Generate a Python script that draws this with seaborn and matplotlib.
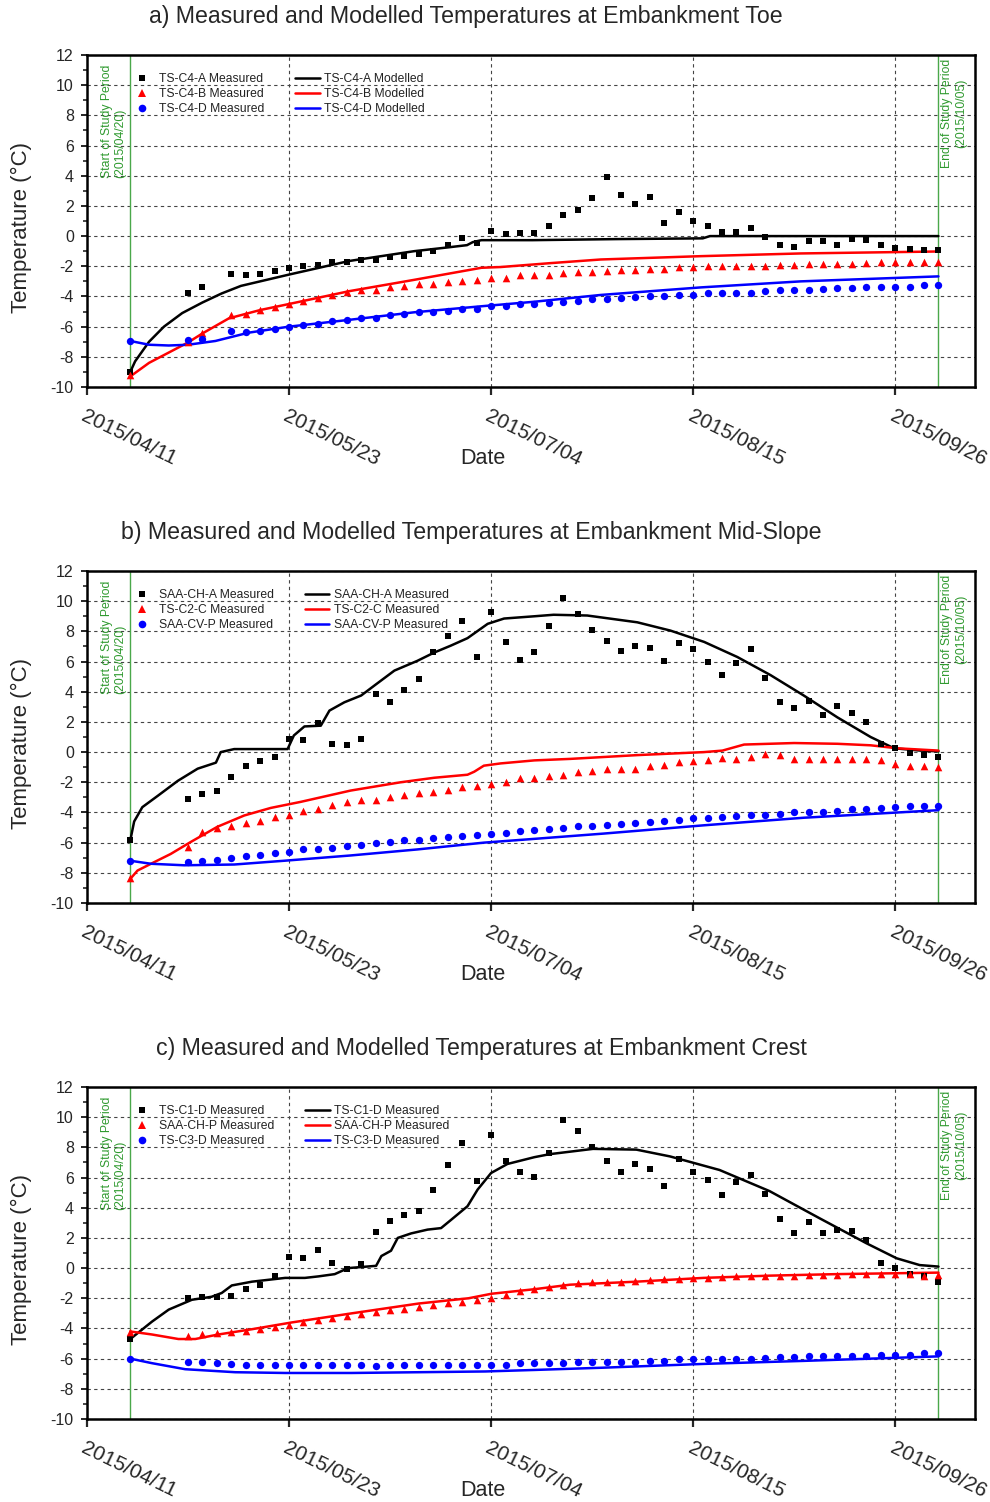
import pandas as pd
import seaborn as sns
import matplotlib.pyplot as plt
import matplotlib.dates as mdates
from matplotlib.lines import Line2D
from matplotlib.ticker import MultipleLocator

sns.set_style("ticks")
plt.rcParams['font.family'] = ['Liberation Sans', 'DejaVu Sans']
plt.rcParams['axes.unicode_minus'] = False

START = pd.Timestamp('2015-04-11')

# ---- measurement days (days after 2015/04/11) ----
toe_days = [9, 21, 24, 30, 33, 36, 39, 42, 45, 48, 51, 54, 57, 60, 63, 66, 69, 72,
            75, 78, 81, 84, 87, 90, 93, 96, 99, 102, 105, 108, 111, 114, 117, 120,
            123, 126, 129, 132, 135, 138, 141, 144, 147, 150, 153, 156, 159, 162,
            165, 168, 171, 174, 177]
mid_days = [9, 21, 24, 27, 30, 33, 36, 39, 42, 45, 48, 51, 54, 57, 60, 63, 66, 69,
            72, 75, 78, 81, 84, 87, 90, 93, 96, 99, 102, 105, 108, 111, 114, 117,
            120, 123, 126, 129, 132, 135, 138, 141, 144, 147, 150, 153, 156, 159,
            162, 165, 168, 171, 174, 177]
crest_days = mid_days

# ---- a) toe, measured ----
toe_a = [-9.0, -3.8, -3.4, -2.5, -2.6, -2.5, -2.3, -2.1, -2.0, -1.9, -1.7, -1.7, -1.6,
         -1.6, -1.4, -1.3, -1.2, -1.0, -0.6, -0.1, -0.45, 0.35, 0.15, 0.2, 0.2, 0.7,
         1.4, 1.75, 2.5, 3.9, 2.7, 2.1, 2.6, 0.9, 1.6, 1.0, 0.7, 0.3, 0.25, 0.55,
         -0.05, -0.6, -0.7, -0.35, -0.35, -0.6, -0.2, -0.25, -0.6, -0.8, -0.85, -0.9,
         -0.95]
toe_b = [-9.2, -7.0, -6.4, -5.2, -5.15, -4.9, -4.7, -4.5, -4.3, -4.1, -3.9, -3.7, -3.6,
         -3.55, -3.4, -3.3, -3.2, -3.15, -3.05, -2.95, -2.9, -2.8, -2.75, -2.6, -2.6,
         -2.55, -2.45, -2.4, -2.35, -2.3, -2.27, -2.22, -2.2, -2.15, -2.07, -2.07, -2.0,
         -2.0, -2.0, -2.0, -1.95, -1.9, -1.9, -1.85, -1.85, -1.85, -1.82, -1.78, -1.75,
         -1.75, -1.75, -1.7, -1.7]
toe_d = [-6.95, -6.9, -6.8, -6.3, -6.35, -6.3, -6.15, -6.0, -5.9, -5.8, -5.65, -5.55,
         -5.4, -5.4, -5.2, -5.15, -5.05, -5.05, -4.95, -4.8, -4.8, -4.65, -4.6, -4.5,
         -4.5, -4.45, -4.4, -4.3, -4.2, -4.15, -4.1, -4.05, -4.0, -3.95, -3.9, -3.9,
         -3.8, -3.8, -3.75, -3.75, -3.65, -3.6, -3.6, -3.55, -3.5, -3.45, -3.45, -3.4,
         -3.35, -3.35, -3.35, -3.25, -3.25]
# a) toe, modelled
toe_a_mod_days = [9, 10, 12.9, 16, 19.8, 24, 28, 32, 42, 54.5, 68, 75, 79, 80.2, 82,
                  92.6, 110, 128, 129.5, 140, 177]
toe_a_mod = [-9.0, -8.3, -7.0, -6.0, -5.1, -4.4, -3.8, -3.3, -2.55, -1.65, -1.0, -0.75,
             -0.6, -0.4, -0.27, -0.27, -0.2, -0.15, 0.0, 0.0, 0.0]
toe_b_mod_days = [9, 12.9, 21, 24, 29.5, 36, 42, 54.5, 68, 82, 86, 96, 106.8, 127.6,
                  148.4, 177]
toe_b_mod = [-9.3, -8.4, -7.05, -6.45, -5.45, -4.9, -4.5, -3.65, -2.9, -2.1, -2.05,
             -1.8, -1.55, -1.33, -1.15, -1.02]
toe_d_mod_days = [9, 12.9, 17, 21, 26.7, 33.6, 42, 54.5, 68, 82, 93, 106.8, 127.6,
                  148.4, 177]
toe_d_mod = [-6.95, -7.2, -7.25, -7.2, -6.95, -6.4, -6.0, -5.55, -5.05, -4.65, -4.35,
             -3.9, -3.4, -3.0, -2.67]

# ---- b) mid-slope, measured ----
mid_a = [-5.85, -3.1, -2.8, -2.6, -1.65, -0.93, -0.6, -0.35, 0.9, 0.8, 1.9, 0.55, 0.5,
         0.85, 3.85, 3.3, 4.1, 4.85, 6.65, 7.7, 8.7, 6.3, 9.25, 7.3, 6.1, 6.6, 8.35,
         10.2, 9.15, 8.1, 7.35, 6.7, 7.05, 6.9, 6.05, 7.25, 6.85, 6.0, 5.1, 5.9, 6.8,
         4.9, 3.35, 2.95, 3.4, 2.45, 3.05, 2.6, 2.0, 0.55, 0.25, -0.05, -0.2, -0.35]
mid_b = [-8.35, -6.3, -5.3, -5.0, -4.9, -4.7, -4.55, -4.3, -4.15, -3.9, -3.75, -3.5,
         -3.3, -3.15, -3.15, -2.95, -2.85, -2.7, -2.65, -2.5, -2.3, -2.25, -2.1, -2.0,
         -1.75, -1.7, -1.6, -1.5, -1.35, -1.25, -1.15, -1.15, -1.1, -0.95, -0.85, -0.65,
         -0.6, -0.5, -0.4, -0.45, -0.35, -0.15, -0.2, -0.45, -0.45, -0.45, -0.47, -0.47,
         -0.47, -0.55, -0.8, -0.9, -0.9, -1.0]
mid_d = [-7.2, -7.3, -7.2, -7.15, -7.05, -6.9, -6.8, -6.7, -6.6, -6.45, -6.4, -6.35,
         -6.2, -6.15, -6.05, -5.95, -5.85, -5.8, -5.7, -5.6, -5.55, -5.5, -5.4, -5.35,
         -5.25, -5.15, -5.1, -5.0, -4.9, -4.9, -4.8, -4.75, -4.7, -4.6, -4.55, -4.5,
         -4.4, -4.35, -4.3, -4.25, -4.2, -4.15, -4.1, -4.0, -3.95, -3.95, -3.9, -3.8,
         -3.75, -3.7, -3.65, -3.6, -3.6, -3.55]
# b) mid-slope, modelled
mid_a_mod_days = [9, 9.8, 11.5, 14.7, 18.9, 23, 26.8, 27.8, 30.6, 41.7, 43, 45.2, 48.6,
                  50.4, 53.5, 57, 59.7, 63.9, 68.7, 72.2, 75.6, 79.1, 83.3, 86.7, 93,
                  97, 104, 114.4, 121.3, 128.3, 135.2, 142.1, 149, 156, 162.9, 167.8,
                  173.3, 177]
mid_a_mod = [-5.85, -4.6, -3.65, -2.9, -1.9, -1.1, -0.7, 0.0, 0.2, 0.2, 1.1, 1.7, 1.75,
             2.75, 3.3, 3.75, 4.4, 5.4, 6.05, 6.6, 7.05, 7.55, 8.5, 8.85, 9.0, 9.1,
             9.05, 8.6, 8.05, 7.3, 6.3, 5.1, 3.75, 2.3, 1.0, 0.25, 0.1, 0.05]
mid_b_mod_days = [9, 10.5, 13.3, 17.4, 21.6, 27.1, 32.7, 38.2, 44.4, 54.8, 65.2, 72.2,
                  79.1, 80.5, 82.5, 86, 93, 100.5, 114.4, 128.3, 132.1, 136.6, 147, 156,
                  162.9, 168.5, 177]
mid_b_mod = [-8.4, -7.85, -7.4, -6.75, -5.95, -4.95, -4.2, -3.7, -3.3, -2.55, -2.0,
             -1.7, -1.5, -1.3, -0.9, -0.75, -0.55, -0.45, -0.2, 0.0, 0.1, 0.5, 0.6,
             0.55, 0.45, 0.25, 0.1]
mid_d_mod_days = [9, 13.3, 20.2, 30.6, 41, 54.8, 68.7, 82.5, 93, 107.4, 128.3, 149, 177]
mid_d_mod = [-7.2, -7.4, -7.5, -7.45, -7.2, -6.85, -6.45, -6.0, -5.75, -5.4, -4.85,
             -4.35, -3.85]

# ---- c) crest, measured ----
crest_a = [-4.7, -2.0, -1.9, -1.9, -1.85, -1.4, -1.15, -0.55, 0.75, 0.65, 1.2, 0.35,
           -0.05, 0.3, 2.4, 3.1, 3.5, 3.8, 5.2, 6.85, 8.3, 5.8, 8.85, 7.1, 6.4, 6.05,
           7.65, 9.8, 9.1, 8.05, 7.1, 6.4, 6.9, 6.55, 5.45, 7.25, 6.4, 5.85, 4.85, 5.7,
           6.2, 4.9, 3.25, 2.3, 3.05, 2.3, 2.55, 2.45, 1.85, 0.35, 0.0, -0.4, -0.5, -0.9]
crest_b = [-4.25, -4.5, -4.4, -4.3, -4.25, -4.15, -4.05, -3.9, -3.75, -3.55, -3.45,
           -3.3, -3.15, -3.05, -2.9, -2.75, -2.7, -2.55, -2.45, -2.3, -2.25, -2.1, -1.95,
           -1.75, -1.55, -1.4, -1.25, -1.15, -1.0, -0.95, -0.9, -0.9, -0.85, -0.8, -0.75,
           -0.7, -0.65, -0.65, -0.6, -0.55, -0.55, -0.5, -0.5, -0.5, -0.45, -0.45,
           -0.45, -0.42, -0.42, -0.42, -0.4, -0.4, -0.5, -0.45]
crest_d = [-6.0, -6.2, -6.25, -6.3, -6.35, -6.4, -6.45, -6.4, -6.45, -6.45, -6.45, -6.4,
           -6.4, -6.4, -6.5, -6.4, -6.4, -6.4, -6.45, -6.45, -6.4, -6.4, -6.4, -6.4,
           -6.3, -6.3, -6.3, -6.3, -6.25, -6.25, -6.2, -6.2, -6.2, -6.15, -6.15, -6.05,
           -6.05, -6.0, -6.0, -6.0, -6.0, -5.95, -5.9, -5.9, -5.85, -5.85, -5.85, -5.8,
           -5.8, -5.75, -5.75, -5.75, -5.65, -5.6]
# c) crest, modelled
crest_a_mod_days = [9, 13.5, 17, 21.8, 25.9, 28, 30.1, 34.3, 41.2, 45.3, 48.1, 51.5,
                    54.3, 60.1, 61.2, 63.2, 64.6, 67.4, 70.8, 73.6, 75.7, 79.1, 81.2,
                    84, 87.4, 93, 96.2, 105.2, 114.2, 121.2, 131.5, 141.9, 152.3, 162,
                    168.3, 173.1, 177]
crest_a_mod = [-4.7, -3.55, -2.75, -2.1, -1.9, -1.65, -1.15, -0.9, -0.65, -0.65, -0.55,
               -0.4, 0.0, 0.15, 0.8, 1.15, 2.0, 2.3, 2.55, 2.65, 3.2, 4.1, 5.2, 6.3,
               6.9, 7.35, 7.55, 7.9, 7.85, 7.4, 6.5, 5.1, 3.3, 1.65, 0.65, 0.2, 0.1]
crest_b_mod_days = [9, 13.5, 19, 22.5, 27.3, 34.3, 42.6, 55, 68.9, 79.3, 84.1, 93,
                    100.4, 114.2, 128.1, 142, 155.8, 177]
crest_b_mod = [-4.2, -4.4, -4.7, -4.7, -4.4, -4.05, -3.6, -3.0, -2.35, -2.0, -1.7, -1.4,
               -1.1, -0.9, -0.65, -0.5, -0.4, -0.3]
crest_d_mod_days = [9, 13.5, 20.4, 30.8, 41.2, 55, 68.9, 82.8, 93, 107.3, 128.1, 148.9,
                    177]
crest_d_mod = [-6.0, -6.3, -6.7, -6.9, -6.95, -6.95, -6.9, -6.85, -6.75, -6.6, -6.35,
               -6.15, -5.85]

titles = ["a) Measured and Modelled Temperatures at Embankment Toe",
          "b) Measured and Modelled Temperatures at Embankment Mid-Slope",
          "c) Measured and Modelled Temperatures at Embankment Crest"]
toe_labels = ["TS-C4-A Measured", "TS-C4-B Measured", "TS-C4-D Measured",
              "TS-C4-A Modelled", "TS-C4-B Modelled", "TS-C4-D Modelled"]
mid_labels = ["SAA-CH-A Measured", "TS-C2-C Measured", "SAA-CV-P Measured",
              "SAA-CH-A Measured", "TS-C2-C Measured", "SAA-CV-P Measured"]
crest_labels = ["TS-C1-D Measured", "SAA-CH-P Measured", "TS-C3-D Measured",
                "TS-C1-D Measured", "SAA-CH-P Measured", "TS-C3-D Measured"]
tick_days = [0, 42, 84, 126, 168]
study_start, study_end = 9, 177

COLORS = ['black', '#ff0000', '#0000ff']
MARKERS = ['s', '^', 'o']
SIZES = [22, 30, 28]
GREEN_LINE = '#4aa84a'
GREEN_TEXT = '#2f9a2f'


def to_dates(days):
    return START + pd.to_timedelta(days, unit='D')


def draw_panel(ax, meas_days, meas, model, labels):
    x = to_dates(meas_days)
    for vals, c, m, s in zip(meas, COLORS, MARKERS, SIZES):
        sns.scatterplot(x=x, y=vals, marker=m, color=c, s=s, linewidth=0,
                        ax=ax, zorder=4)
    for (d, v), c in zip(model, COLORS):
        sns.lineplot(x=to_dates(d), y=v, color=c, linewidth=1.8, ax=ax, zorder=3)

    ax.set_xlim(START, START + pd.Timedelta(days=184.6))
    ax.set_ylim(-10, 12)
    ax.yaxis.set_major_locator(MultipleLocator(2))
    ax.yaxis.set_minor_locator(MultipleLocator(1))
    ax.set_xticks(to_dates(tick_days))
    ax.xaxis.set_major_formatter(mdates.DateFormatter('%Y/%m/%d'))
    ax.tick_params(axis='y', which='major', length=4.5, width=1.4, labelsize=11.5, pad=5)
    ax.tick_params(axis='y', which='minor', length=3, width=1.2)
    ax.tick_params(axis='x', which='major', length=6, width=1.6, labelsize=15, pad=8)
    plt.setp(ax.get_xticklabels(), rotation=-26, ha='left', va='top',
             rotation_mode='anchor')
    ax.grid(True, which='major', linestyle=(0, (3, 3)), color='#444444', linewidth=0.8)
    ax.set_axisbelow(True)
    for sp in ax.spines.values():
        sp.set_linewidth(1.8)
        sp.set_color('black')

    ax.set_xlabel('Date', fontsize=15.5)
    ax.xaxis.set_label_coords(0.446, -0.185)
    ax.set_ylabel('Temperature (°C)', fontsize=16)
    ax.yaxis.set_label_coords(-0.062, 0.48)

    # study period
    trans = ax.get_xaxis_transform()
    for d in (study_start, study_end):
        ax.axvline(to_dates([d])[0], color=GREEN_LINE, linewidth=1.0, zorder=2)
    ax.text(to_dates([study_start - 0.8])[0], 0.63,
            "Start of Study Period\n(2015/04/20)", transform=trans, rotation=90,
            ha='right', va='bottom', multialignment='left', fontsize=8.8,
            color=GREEN_TEXT)
    ax.text(to_dates([study_end + 0.6])[0], 0.99,
            "End of Study Period\n(2015/10/05)", transform=trans, rotation=90,
            ha='left', va='top', multialignment='center', fontsize=8.8,
            color=GREEN_TEXT)

    handles = [Line2D([], [], ls='none', marker=m, color=c, markersize=ms,
                      markeredgewidth=0)
               for m, c, ms in zip(MARKERS, COLORS, [4.5, 5.5, 5.5])]
    handles += [Line2D([], [], color=c, linewidth=1.8) for c in COLORS]
    ax.legend(handles, labels, ncol=2, frameon=False, loc='upper left',
              bbox_to_anchor=(0.048, 0.945), borderaxespad=0, borderpad=0,
              fontsize=8.7, handlelength=2.0, handletextpad=0.4,
              columnspacing=2.6, labelspacing=0.25, labelcolor='#222222')


fig = plt.figure(figsize=(9.9, 15.02), dpi=100)
H = 1502.0
W = 990.0
panel_tops = [55, 571, 1087]
title_y = [16, 532, 1048]
title_x = [466, 471, 481]
panels = [
    (toe_days, [toe_a, toe_b, toe_d],
     [(toe_a_mod_days, toe_a_mod), (toe_b_mod_days, toe_b_mod), (toe_d_mod_days, toe_d_mod)],
     toe_labels),
    (mid_days, [mid_a, mid_b, mid_d],
     [(mid_a_mod_days, mid_a_mod), (mid_b_mod_days, mid_b_mod), (mid_d_mod_days, mid_d_mod)],
     mid_labels),
    (crest_days, [crest_a, crest_b, crest_d],
     [(crest_a_mod_days, crest_a_mod), (crest_b_mod_days, crest_b_mod),
      (crest_d_mod_days, crest_d_mod)],
     crest_labels),
]

for i, (days, meas, model, labels) in enumerate(panels):
    top = panel_tops[i]
    ax = fig.add_axes([87 / W, 1 - (top + 332) / H, 888 / W, 332 / H])
    draw_panel(ax, days, meas, model, labels)
    fig.text(title_x[i] / W, 1 - title_y[i] / H, titles[i], ha='center', va='center',
             fontsize=16.7)

fig.savefig('out.png', dpi=100)
